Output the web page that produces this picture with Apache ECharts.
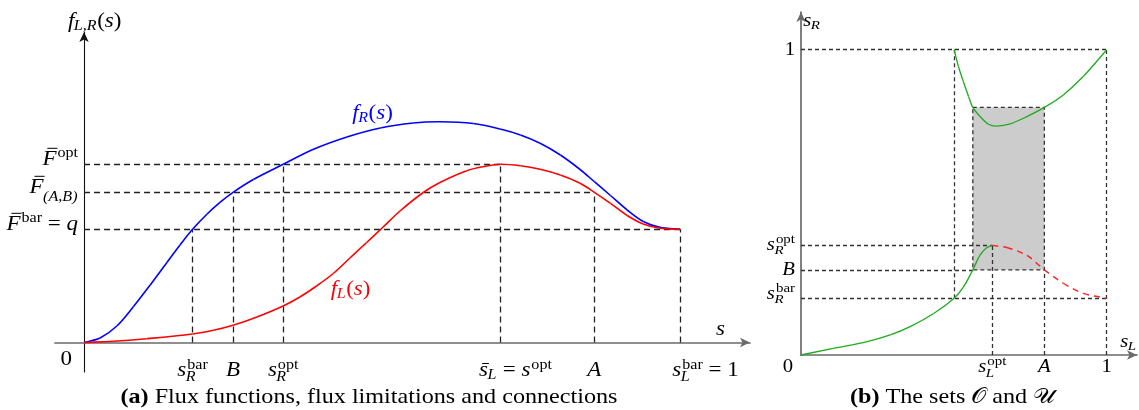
<!DOCTYPE html>
<html>
<head>
<meta charset="utf-8">
<script src="https://cdn.jsdelivr.net/npm/echarts@6/dist/echarts.min.js"></script>
<style>
  html, body { margin: 0; padding: 0; background: #fff; }
  #c { width: 1139px; height: 410px; }
</style>
</head>
<body>
<div id="c"></div>
<script>
// ---------- panel (a): flux functions ----------
// f_R(s), blue
const fR = [[0,0],[0.027,0.045],[0.055,0.165],[0.083,0.36],[0.111,0.575],[0.139,0.8],[0.161,0.975],
  [0.182,1.132],[0.206,1.283],[0.228,1.402],[0.25,1.502],[0.284,1.63],[0.334,1.782],[0.384,1.93],
  [0.441,2.055],[0.497,2.145],[0.552,2.195],[0.597,2.208],[0.653,2.19],[0.698,2.135],[0.732,2.075],
  [0.765,1.992],[0.799,1.875],[0.832,1.73],[0.856,1.608],[0.883,1.47],[0.911,1.325],[0.938,1.21],
  [0.966,1.152],[1,1.132]];
// f_L(s), red
const fL = [[0,0],[0.049,0.012],[0.105,0.038],[0.182,0.085],[0.217,0.122],[0.25,0.172],[0.29,0.255],
  [0.334,0.365],[0.362,0.455],[0.39,0.565],[0.418,0.69],[0.446,0.845],[0.474,1.0],[0.5,1.145],
  [0.53,1.315],[0.569,1.5],[0.597,1.6],[0.642,1.718],[0.676,1.765],[0.698,1.782],[0.732,1.767],
  [0.765,1.732],[0.799,1.675],[0.832,1.592],[0.856,1.502],[0.883,1.392],[0.911,1.27],[0.938,1.185],
  [0.966,1.142],[1,1.132]];
// abscissae marked on the s axis
const sRbar = 0.182, sB = 0.25, sRopt = 0.334, sOpt = 0.698, sA = 0.856, sLbar = 1;
// flux levels marked on the vertical axis
const Fopt = 1.782, FAB = 1.502, Fbar = 1.132;

// ---------- panel (b): the sets O and U ----------
const curveLow = [[0,0],[0.107,0.022],[0.216,0.044],[0.292,0.066],[0.357,0.093],[0.434,0.136],
  [0.501,0.186],[0.531,0.222],[0.562,0.279],[0.586,0.328],[0.608,0.352],[0.626,0.359]];
const curveHigh = [[0.501,1],[0.515,0.945],[0.531,0.896],[0.548,0.847],[0.562,0.811],[0.586,0.781],
  [0.613,0.756],[0.64,0.75],[0.684,0.757],[0.739,0.781],[0.796,0.811],[0.858,0.852],[0.923,0.912],[1,1]];
const curveRed = [[0.626,0.359],[0.673,0.352],[0.739,0.326],[0.796,0.279],[0.858,0.235],[0.923,0.202],[1,0.186]];
const sLcut = 0.501, sLbox = 0.562, sLopt = 0.626, sLA = 0.796;
const sRtop = 0.811, sRoptB = 0.359, sRB = 0.279, sRbarB = 0.186;

// dashed construction lines
const guidesA = [
  [[0, Fopt], [sOpt, Fopt]], [[0, FAB], [sA, FAB]], [[0, Fbar], [sLbar, Fbar]],
  [[sRbar, 0], [sRbar, Fbar]], [[sB, 0], [sB, FAB]], [[sRopt, 0], [sRopt, Fopt]],
  [[sOpt, 0], [sOpt, Fopt]], [[sA, 0], [sA, FAB]], [[sLbar, 0], [sLbar, Fbar]]
];
const guidesB = [
  [[0, 1], [1, 1]], [[sLcut, sRbarB], [sLcut, 1]], [[1, 0], [1, 1]],
  [[sLopt, 0], [sLopt, sRoptB]], [[sLA, 0], [sLA, sRB]],
  [[0, sRoptB], [sLopt, sRoptB]], [[0, sRB], [sLbox, sRB]], [[0, sRbarB], [1, sRbarB]]
];
const boxB = [[sLbox, sRtop, sLA, sRB]];

// tick labels, written as small formula token lists
const ticksAx = [
  { v: sRbar, tex: [{ t: 's', it: 1, sub: 'R', sup: 'bar' }] },
  { v: sB, tex: [{ t: 'B', it: 1 }] },
  { v: sRopt, tex: [{ t: 's', it: 1, sub: 'R', sup: 'opt' }] },
  { v: sOpt, tex: [{ t: 's', it: 1, bar: 1, sub: 'L' }, { t: ' = ' }, { t: 's', it: 1, sup: 'opt' }], ax: 0.29 },
  { v: sA, tex: [{ t: 'A', it: 1 }] },
  { v: sLbar, tex: [{ t: 's', it: 1, sub: 'L', sup: 'bar' }, { t: ' = 1' }], ax: 0.12 }
];
const ticksAy = [
  { v: Fopt, tex: [{ t: 'F', it: 1, bar: 1, sup: 'opt' }] },
  { v: FAB, tex: [{ t: 'F', it: 1, bar: 1, sub: '(A,B)', subDy: 8 }] },
  { v: Fbar, tex: [{ t: 'F', it: 1, bar: 1, sup: 'bar' }, { t: ' = ' }, { t: 'q', it: 1 }] }
];
const ticksBx = [
  { v: sLopt, tex: [{ t: 's', it: 1, sub: 'L', sup: 'opt' }] },
  { v: sLA, tex: [{ t: 'A', it: 1 }] },
  { v: 1, tex: [{ t: '1' }] }
];
const ticksBy = [
  { v: 1, tex: [{ t: '1' }], dy: 5.5 },
  { v: sRoptB, tex: [{ t: 's', it: 1, sub: 'R', sup: 'opt' }], dy: 4.5 },
  { v: sRB, tex: [{ t: 'B', it: 1 }], dy: 5.5 },
  { v: sRbarB, tex: [{ t: 's', it: 1, sub: 'R', sup: 'bar' }], dy: 0.5 }
];

// ---------- small formula typesetter ----------
const FAM = '"Liberation Serif", "DejaVu Serif", serif';
const SX = 1.15;            // horizontal stretch, gives the wide book-face look
const meter = document.createElement('canvas').getContext('2d');
function fontOf(size, it, bold) {
  return (it ? 'italic ' : '') + (bold ? 'bold ' : '') + size + 'px ' + FAM;
}
function meas(t, size, it, bold) {
  meter.font = fontOf(size, it, bold);
  meter.textBaseline = 'alphabetic';
  const m = meter.measureText(t);
  return { width: m.width * SX, asc: m.actualBoundingBoxAscent };
}
const midCache = {};
function midOff(size, it, bold) {
  const k = size + '|' + it + '|' + bold;
  if (midCache[k] == null) {
    meter.font = fontOf(size, it, bold);
    meter.textBaseline = 'alphabetic';
    const a = meter.measureText('H').actualBoundingBoxAscent;
    meter.textBaseline = 'middle';
    const b = meter.measureText('H').actualBoundingBoxAscent;
    midCache[k] = a - b;
  }
  return midCache[k];
}
function typeset(tokens, size) {
  const scr = Math.round(size * 0.7);
  const parts = [], bars = [], spans = [];
  let x = 0;
  tokens.forEach(tk => {
    const x0 = x;
    if (tk.t) {
      const m = meas(tk.t, size, tk.it, tk.bold);
      parts.push({ x, dy: 0, text: tk.t, size, it: tk.it, bold: tk.bold });
      if (tk.bar) bars.push({ x1: x + m.width * (tk.it ? 0.35 : 0.12), x2: x + m.width + (tk.it ? 1 : 0), y: -m.asc - 2.5 });
      x += m.width;
    }
    let adv = 0;
    if (tk.sup) {
      const m = meas(tk.sup, scr, false);
      parts.push({ x: x + 1, dy: -size * 0.37, text: tk.sup, size: scr, it: false });
      adv = Math.max(adv, m.width + 1);
    }
    if (tk.sub) {
      const m = meas(tk.sub, scr, true);
      const dy = tk.subDy != null ? tk.subDy : size * (tk.sup ? 0.25 : 0.17);
      parts.push({ x: x - (tk.it ? 0.5 : 0), dy, text: tk.sub, size: scr, it: true });
      adv = Math.max(adv, m.width);
    }
    x += adv;
    spans.push([x0, x]);
  });
  return { parts, bars, spans, width: x };
}
function place(tokens, px, py, o, out) {
  const size = o.size || 20;
  const L = typeset(tokens, size);
  const anchor = o.pin != null ? (L.spans[o.pin][0] + L.spans[o.pin][1]) / 2
                               : (o.ax != null ? o.ax : 0.5) * L.width;
  const left = px + (o.dx || 0) - anchor;
  const base = py + (o.dy || 0);
  const col = o.color || '#000';
  L.parts.forEach(p => out.push({
    type: 'text', silent: true, z: 100, scaleX: SX,
    x: left + p.x, y: base + p.dy - midOff(p.size, p.it, p.bold),
    style: { text: p.text, font: fontOf(p.size, p.it, p.bold), fill: col, align: 'left', verticalAlign: 'middle' }
  }));
  L.bars.forEach(b => out.push({
    type: 'line', silent: true, z: 100,
    shape: { x1: left + b.x1, y1: base + b.y, x2: left + b.x2, y2: base + b.y },
    style: { stroke: col, lineWidth: 1 }
  }));
}

// ---------- chart ----------
const chart = echarts.init(document.getElementById('c'), null, { renderer: 'canvas' });
const arrowAxis = (color, width) => ({
  show: true, onZero: true, symbol: ['none', 'arrow'], symbolSize: [7, 10],
  lineStyle: { color, width }
});
const bare = { axisTick: { show: false }, axisLabel: { show: false }, splitLine: { show: false } };

// smooth curve through the points: chord-length cubic spline drawn as Bezier pieces
function spline(pts, i, stroke, width, dash) {
  return {
    type: 'custom', xAxisIndex: i, yAxisIndex: i, data: [[pts[0][0], pts[0][1]]], silent: true, z: 5,
    renderItem: (params, api) => {
      const P = pts.map(p => api.coord(p));
      const n = P.length, d = [];
      for (let k = 0; k < n - 1; k++) d.push(Math.hypot(P[k + 1][0] - P[k][0], P[k + 1][1] - P[k][1]));
      const T = P.map((p, k) => {
        const a = P[Math.max(0, k - 1)], b = P[Math.min(n - 1, k + 1)];
        const s = (k > 0 ? d[k - 1] : 0) + (k < n - 1 ? d[k] : 0);
        return [(b[0] - a[0]) / s, (b[1] - a[1]) / s];
      });
      const children = [];
      for (let k = 0; k < n - 1; k++) {
        const h = d[k] / 3;
        children.push({
          type: 'bezierCurve',
          shape: {
            x1: P[k][0], y1: P[k][1], x2: P[k + 1][0], y2: P[k + 1][1],
            cpx1: P[k][0] + T[k][0] * h, cpy1: P[k][1] + T[k][1] * h,
            cpx2: P[k + 1][0] - T[k + 1][0] * h, cpy2: P[k + 1][1] - T[k + 1][1] * h
          },
          style: { stroke, lineWidth: width, fill: null, lineDash: dash || null }
        });
      }
      return { type: 'group', children };
    }
  };
}
function guides(segs, i, color, width, dash) {
  return {
    type: 'lines', coordinateSystem: 'cartesian2d', xAxisIndex: i, yAxisIndex: i, silent: true, z: 3,
    data: segs.map(s => ({ coords: s })),
    lineStyle: { color, width, type: dash, opacity: 1 }
  };
}

chart.setOption({
  animation: false,
  backgroundColor: '#fff',
  grid: [
    { left: 55, width: 695, top: 32, height: 340 },
    { left: 801, width: 336, top: 12, height: 343 }
  ],
  xAxis: [
    Object.assign({ gridIndex: 0, type: 'value', min: -0.0487, max: 1.117, axisLine: arrowAxis('#6a6a6a', 1.7) }, bare),
    Object.assign({ gridIndex: 1, type: 'value', min: 0, max: 1.099, axisLine: arrowAxis('#6a6a6a', 1.7) }, bare)
  ],
  yAxis: [
    Object.assign({ gridIndex: 0, type: 'value', min: -0.295, max: 3.105, axisLine: arrowAxis('#111', 1.1) }, bare),
    Object.assign({ gridIndex: 1, type: 'value', min: 0, max: 1.1235, axisLine: arrowAxis('#6a6a6a', 1.7) }, bare)
  ],
  series: [
    guides(guidesA, 0, '#222', 1.3, [6, 4]),
    spline(fR, 0, '#0000ff', 1.6),
    spline(fL, 0, '#ff0000', 1.6),
    {
      type: 'custom', xAxisIndex: 1, yAxisIndex: 1, data: boxB, silent: true, z: 1,
      encode: { x: [0, 2], y: [1, 3] },
      renderItem: (params, api) => {
        const p1 = api.coord([api.value(0), api.value(1)]);
        const p2 = api.coord([api.value(2), api.value(3)]);
        return {
          type: 'rect',
          shape: { x: p1[0], y: p1[1], width: p2[0] - p1[0], height: p2[1] - p1[1] },
          style: { fill: '#cccccc', stroke: '#333', lineWidth: 1.3, lineDash: [4, 3] }
        };
      }
    },
    guides(guidesB, 1, '#333', 1.3, [4, 3]),
    spline(curveLow, 1, '#1faa1f', 1.3),
    spline(curveHigh, 1, '#1faa1f', 1.3),
    spline(curveRed, 1, '#ff2020', 1.4, [6, 5])
  ]
});

// ---------- labels placed through the axes ----------
const els = [];
const pa = v => chart.convertToPixel({ gridIndex: 0 }, v);
const pb = v => chart.convertToPixel({ gridIndex: 1 }, v);

ticksAx.forEach(k => { const p = pa([k.v, 0]); place(k.tex, p[0], p[1], { dy: 33.5, ax: k.ax }, els); });
ticksAy.forEach(k => { const p = pa([0, k.v]); place(k.tex, p[0], p[1], { ax: 1, dx: -6, dy: 0.5 }, els); });
{ const p = pa([0, 0]); place([{ t: '0' }], p[0], p[1], { ax: 1, dx: -12, dy: 22.5 }, els); }
{ const p = pa([-0.027, 3.155]); place([{ t: 'f', it: 1, sub: 'L,R' }, { t: '(' }, { t: 's', it: 1 }, { t: ')' }], p[0], p[1], { ax: 0 }, els); }
{ const p = pa([1.06, 0.075]); place([{ t: 's', it: 1 }], p[0], p[1], { ax: 0 }, els); }
{ const p = pa([0.45, 2.235]); place([{ t: 'f', it: 1, sub: 'R' }, { t: '(' }, { t: 's', it: 1 }, { t: ')' }], p[0], p[1], { ax: 0, color: '#0000ff' }, els); }
{ const p = pa([0.414, 0.475]); place([{ t: 'f', it: 1, sub: 'L' }, { t: '(' }, { t: 's', it: 1 }, { t: ')' }], p[0], p[1], { ax: 0, color: '#ff0000' }, els); }

ticksBx.forEach(k => { const p = pb([k.v, 0]); place(k.tex, p[0], p[1], { dy: 17, size: 18 }, els); });
ticksBy.forEach(k => { const p = pb([0, k.v]); place(k.tex, p[0], p[1], { ax: 1, dx: -6, dy: k.dy, size: 18 }, els); });
{ const p = pb([0, 0]); place([{ t: '0' }], p[0], p[1], { ax: 1, dx: -8, dy: 17, size: 18 }, els); }
{ const p = pb([0.0075, 1.078]); place([{ t: 's', it: 1, sub: 'R' }], p[0], p[1], { ax: 0, size: 18 }, els); }
{ const p = pb([1.044, 0.026]); place([{ t: 's', it: 1, sub: 'L' }], p[0], p[1], { ax: 0, size: 18 }, els); }

// sub-figure captions
place([{ t: '(a)', bold: 1 }, { t: ' Flux functions, flux limitations and connections' }], 369, 403, { size: 21 }, els);
place([{ t: '(b)', bold: 1 }, { t: ' The sets ' }, { t: '\u{1D4AA}' }, { t: ' and ' }, { t: '\u{1D4B0}' }], 952.5, 403, { size: 21 }, els);

chart.setOption({ graphic: { elements: els } });
</script>
</body>
</html>
